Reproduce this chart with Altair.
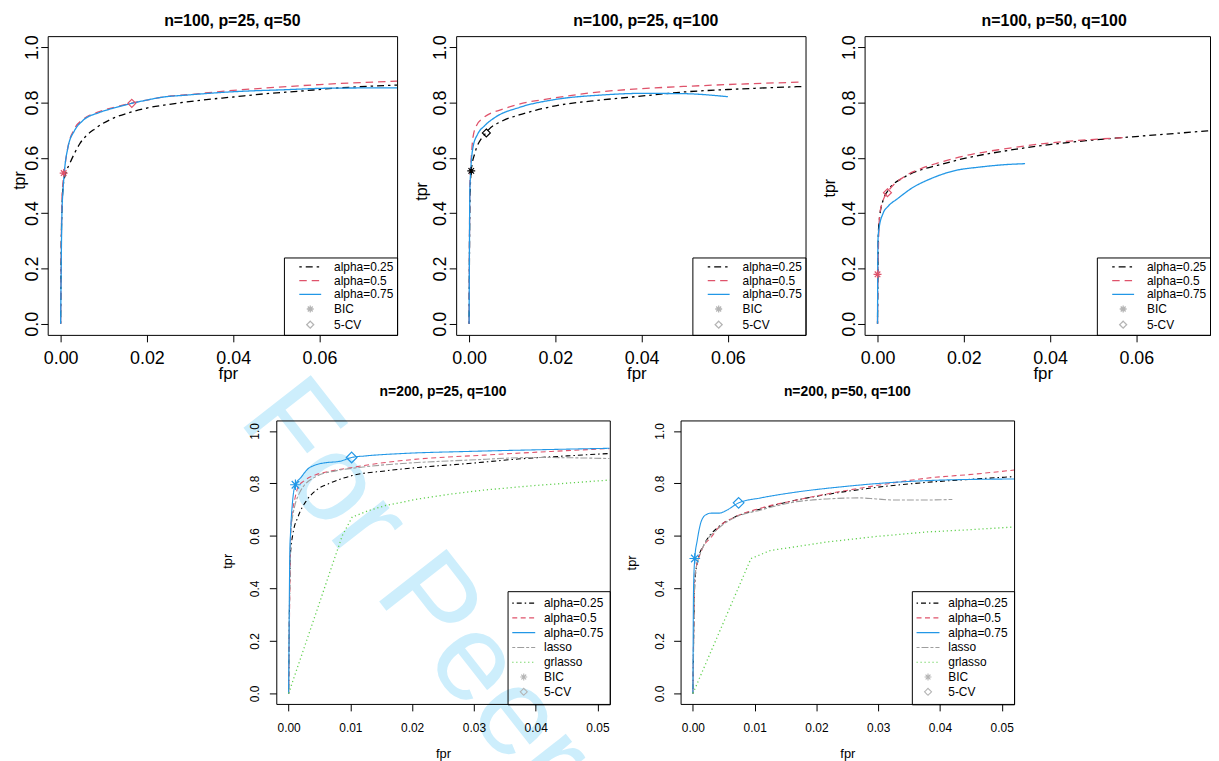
import altair as alt
import pandas as pd

FONT = "Liberation Sans"

# ---------------------------------------------------------------- data
TOP_KEYS = ["alpha=0.25", "alpha=0.5", "alpha=0.75", "BIC", "5-CV"]
BOT_KEYS = ["alpha=0.25", "alpha=0.5", "alpha=0.75", "lasso", "grlasso", "BIC", "5-CV"]
SERIES_KEYS = ["alpha=0.25", "alpha=0.5", "alpha=0.75"]

P1_TITLE = "n=100, p=25, q=50"
P1_A025_FPR = [0, 0.0002, 0.0006, 0.0012, 0.0021, 0.0044, 0.0082, 0.012, 0.0158, 0.02, 0.025, 0.0323, 0.04, 0.0477, 0.0553, 0.063, 0.078]
P1_A025_TPR = [0, 0.35, 0.50, 0.545, 0.579, 0.65, 0.708, 0.742, 0.763, 0.78, 0.793, 0.808, 0.82, 0.832, 0.841, 0.851, 0.863]
P1_A05_FPR = [0, 0.0003, 0.0006, 0.0009, 0.0017, 0.0032, 0.0051, 0.009, 0.0128, 0.0165, 0.0197, 0.0239, 0.03, 0.04, 0.05, 0.06, 0.078]
P1_A05_TPR = [0, 0.45, 0.52, 0.56, 0.64, 0.705, 0.738, 0.767, 0.784, 0.798, 0.808, 0.82, 0.829, 0.844, 0.855, 0.865, 0.877]
P1_A075_FPR = [0, 0.0003, 0.00055, 0.0009, 0.0017, 0.0032, 0.0051, 0.009, 0.0128, 0.0165, 0.0197, 0.0239, 0.0285, 0.04, 0.0515, 0.063, 0.078]
P1_A075_TPR = [0, 0.40, 0.483, 0.555, 0.638, 0.698, 0.734, 0.764, 0.782, 0.797, 0.808, 0.82, 0.826, 0.839, 0.846, 0.852, 0.853]
P1_MARK_KEY = ["BIC", "5-CV"]
P1_MARK_SERIES = ["alpha=0.5", "alpha=0.5"]
P1_MARK_FPR = [0.0007, 0.0165]
P1_MARK_TPR = [0.545, 0.797]

P2_TITLE = "n=100, p=25, q=100"
P2_A025_FPR = [0, 0.0002, 0.0005, 0.0013, 0.004, 0.0078, 0.0116, 0.0154, 0.02, 0.0306, 0.0398, 0.0497, 0.06, 0.0775]
P2_A025_TPR = [0, 0.45, 0.553, 0.615, 0.692, 0.734, 0.755, 0.772, 0.788, 0.809, 0.823, 0.838, 0.847, 0.858]
P2_A05_FPR = [0, 0.0002, 0.0005, 0.0009, 0.0017, 0.0032, 0.0078, 0.0116, 0.02, 0.0306, 0.0398, 0.0497, 0.06, 0.0775]
P2_A05_TPR = [0, 0.52, 0.60, 0.674, 0.716, 0.743, 0.776, 0.794, 0.817, 0.839, 0.85, 0.858, 0.865, 0.874]
P2_A075_FPR = [0, 0.0002, 0.0009, 0.002, 0.0036, 0.0062, 0.0116, 0.02, 0.0306, 0.0398, 0.0497, 0.06]
P2_A075_TPR = [0, 0.495, 0.638, 0.686, 0.716, 0.748, 0.782, 0.811, 0.827, 0.833, 0.832, 0.821]
P2_MARK_KEY = ["BIC", "5-CV"]
P2_MARK_SERIES = ["alpha=0.25", "alpha=0.25"]
P2_MARK_FPR = [0.0005, 0.004]
P2_MARK_TPR = [0.553, 0.69]

P3_TITLE = "n=100, p=50, q=100"
P3_A025_FPR = [0, 0.0002, 0.0005, 0.0013, 0.0024, 0.0063, 0.0101, 0.0139, 0.0216, 0.0292, 0.0399, 0.0483, 0.0598, 0.0771]
P3_A025_TPR = [0, 0.33, 0.388, 0.447, 0.481, 0.531, 0.557, 0.573, 0.603, 0.624, 0.648, 0.662, 0.677, 0.698]
P3_A05_FPR = [0, 0.0001, 0.0005, 0.0013, 0.0024, 0.0063, 0.0101, 0.0139, 0.0216, 0.0292, 0.0399, 0.0483, 0.0579]
P3_A05_TPR = [0, 0.18, 0.394, 0.447, 0.477, 0.533, 0.561, 0.581, 0.612, 0.632, 0.654, 0.665, 0.674]
P3_A075_FPR = [0, 0.0001, 0.0003, 0.0013, 0.0024, 0.0047, 0.0078, 0.0124, 0.0177, 0.0239, 0.0292, 0.0342]
P3_A075_TPR = [0, 0.30, 0.34, 0.40, 0.424, 0.453, 0.489, 0.525, 0.553, 0.567, 0.575, 0.579]
P3_MARK_KEY = ["BIC", "5-CV"]
P3_MARK_SERIES = ["alpha=0.5", "alpha=0.5"]
P3_MARK_FPR = [0.0, 0.0023]
P3_MARK_TPR = [0.179, 0.474]

P4_TITLE = "n=200, p=25, q=100"
P4_A025_FPR = [0, 0.0002, 0.0003, 0.0007, 0.0015, 0.0029, 0.0044, 0.0066, 0.0103, 0.0157, 0.021, 0.0291, 0.0371, 0.0451, 0.052]
P4_A025_TPR = [0, 0.45, 0.533, 0.609, 0.672, 0.735, 0.773, 0.8, 0.83, 0.848, 0.861, 0.876, 0.893, 0.905, 0.914]
P4_A05_FPR = [0, 0.0002, 0.0004, 0.001, 0.0015, 0.0025, 0.0044, 0.0066, 0.0103, 0.0157, 0.021, 0.0317, 0.0425, 0.052]
P4_A05_TPR = [0, 0.40, 0.646, 0.74, 0.785, 0.81, 0.833, 0.846, 0.861, 0.88, 0.893, 0.908, 0.922, 0.933]
P4_A075_FPR = [0, 0.0002, 0.0003, 0.0007, 0.0011, 0.002, 0.0031, 0.0044, 0.006, 0.0082, 0.0102, 0.0125, 0.0184, 0.0291, 0.0398, 0.052]
P4_A075_TPR = [0, 0.55, 0.609, 0.747, 0.795, 0.823, 0.855, 0.871, 0.879, 0.884, 0.899, 0.905, 0.914, 0.922, 0.928, 0.934]
P4_LASSO_FPR = [0, 0.0002, 0.0004, 0.0018, 0.0044, 0.0076, 0.0114, 0.0184, 0.0291, 0.0398, 0.052]
P4_LASSO_TPR = [0, 0.45, 0.634, 0.766, 0.826, 0.848, 0.861, 0.876, 0.889, 0.899, 0.895]
P4_GRL_FPR = [0, 0.0087, 0.0103, 0.013, 0.0157, 0.021, 0.0264, 0.0317, 0.0398, 0.052]
P4_GRL_TPR = [0, 0.602, 0.672, 0.697, 0.716, 0.741, 0.76, 0.775, 0.792, 0.813]
P4_MARK_KEY = ["BIC", "5-CV"]
P4_MARK_SERIES = ["alpha=0.75", "alpha=0.75"]
P4_MARK_FPR = [0.0011, 0.0102]
P4_MARK_TPR = [0.795, 0.899]

P5_TITLE = "n=200, p=50, q=100"
P5_A025_FPR = [0, 0.0002, 0.0003, 0.0008, 0.0019, 0.0041, 0.0068, 0.011, 0.0164, 0.0217, 0.0297, 0.0378, 0.0458, 0.052]
P5_A025_TPR = [0, 0.33, 0.419, 0.508, 0.571, 0.634, 0.672, 0.703, 0.735, 0.758, 0.785, 0.804, 0.817, 0.826]
P5_A05_FPR = [0, 0.0002, 0.0003, 0.0014, 0.003, 0.0041, 0.0068, 0.011, 0.0164, 0.0217, 0.0297, 0.0378, 0.0458, 0.052]
P5_A05_TPR = [0, 0.35, 0.444, 0.545, 0.596, 0.631, 0.672, 0.706, 0.735, 0.76, 0.792, 0.82, 0.836, 0.851]
P5_A075_FPR = [0, 0.0001, 0.0003, 0.0007, 0.0014, 0.0022, 0.003, 0.0043, 0.0054, 0.0074, 0.011, 0.0164, 0.0244, 0.0324, 0.0405, 0.052]
P5_A075_TPR = [0, 0.40, 0.514, 0.583, 0.659, 0.682, 0.687, 0.687, 0.697, 0.726, 0.745, 0.766, 0.788, 0.804, 0.813, 0.817]
P5_LASSO_FPR = [0, 0.0002, 0.0003, 0.0014, 0.0041, 0.0068, 0.011, 0.0164, 0.0217, 0.027, 0.0297, 0.0324, 0.0378, 0.042]
P5_LASSO_TPR = [0, 0.30, 0.444, 0.545, 0.628, 0.67, 0.699, 0.729, 0.741, 0.745, 0.741, 0.737, 0.737, 0.739]
P5_GRL_FPR = [0, 0.0094, 0.0126, 0.0164, 0.0217, 0.0297, 0.0378, 0.0458, 0.052]
P5_GRL_TPR = [0, 0.514, 0.545, 0.558, 0.577, 0.598, 0.615, 0.625, 0.634]
P5_MARK_KEY = ["BIC", "5-CV"]
P5_MARK_SERIES = ["alpha=0.75", "alpha=0.75"]
P5_MARK_FPR = [0.0003, 0.0074]
P5_MARK_TPR = [0.514, 0.726]

WATERMARK = "For Peer Review"

TOP_X_TICKS = [0, 0.02, 0.04, 0.06]
BOT_X_TICKS = [0, 0.01, 0.02, 0.03, 0.04, 0.05]
Y_TICKS = [0, 0.2, 0.4, 0.6, 0.8, 1.0]

# ---------------------------------------------------------------- styles
COLORS = {"alpha=0.25": "#000000", "alpha=0.5": "#DF536B", "alpha=0.75": "#2297E6",
          "lasso": "#9E9E9E", "grlasso": "#61D04F", "BIC": "#b4b4b4", "5-CV": "#b4b4b4"}
ASTERISK = "M-1,0L1,0M0,-1L0,1M-0.7,-0.7L0.7,0.7M-0.7,0.7L0.7,-0.7"
DIAMOND = "M0,-1L1,0L0,1L-1,0Z"

TOP = dict(
    height=301, lab=18, xpad=8, ypad=3.5, xt_fs=17, yt_fs=16, title_fs=16, title_off=-7.2,
    xtitle_y=39, sw=1.3, msize=64,
    dash={"alpha=0.25": [2.5, 4, 7, 4], "alpha=0.5": [7.5, 5], "alpha=0.75": [1, 0],
          "BIC": [1, 0], "5-CV": [1, 0]},
    shape={"alpha=0.25": "M-3.15,0L3.15,0", "alpha=0.5": "M-3.15,0L3.15,0", "alpha=0.75": "M-3.15,0L3.15,0",
           "BIC": ASTERISK, "5-CV": DIAMOND},
    legend=dict(title=" ", titleOrient="left", titleFontSize=1, titlePadding=10,
                padding=3.5, rowPadding=1.8, symbolOffset=7, labelOffset=18,
                symbolStrokeWidth=1.3),
    xticks=TOP_X_TICKS,
)
BOT = dict(
    height=285.6, lab=12, xpad=12, ypad=10.5, xt_fs=13, yt_fs=13, title_fs=14, title_off=11.1,
    xtitle_y=49.7, sw=1.1, msize=115,
    dash={"alpha=0.25": [1.5, 3, 5, 3], "alpha=0.5": [5, 3.5], "alpha=0.75": [1, 0],
          "lasso": [3, 2, 7, 2], "grlasso": [1.2, 2.8], "BIC": [1, 0], "5-CV": [1, 0]},
    shape={"alpha=0.25": "M-3.3,0L3.3,0", "alpha=0.5": "M-3.3,0L3.3,0", "alpha=0.75": "M-3.3,0L3.3,0",
           "lasso": "M-3.3,0L3.3,0", "grlasso": "M-3.3,0L3.3,0", "BIC": ASTERISK, "5-CV": DIAMOND},
    legend=dict(title=None, padding=6, rowPadding=2.9, symbolOffset=4.3, labelOffset=14.4,
                symbolStrokeWidth=1.1),
    xticks=BOT_X_TICKS,
)


def line_frame(series):
    rows = []
    for key, fprs, tprs in series:
        for i, (f, t) in enumerate(zip(fprs, tprs)):
            rows.append({"key": key, "fpr": f, "tpr": t, "idx": i})
    return pd.DataFrame(rows)


def panel(title, smooth, linear, marks, keys, cfg, width, xdom, dx, ytx, yty, xtx_shift):
    h = cfg["height"]
    xscale = alt.Scale(domain=xdom, nice=False, zero=False)
    yscale = alt.Scale(domain=[-0.04, 1.04], nice=False, zero=False)
    xaxis = alt.Axis(values=cfg["xticks"], format=".2f", labelFontSize=cfg["lab"], labelFont=FONT,
                     labelColor="black", tickSize=7, tickColor="black", tickWidth=1, domain=False,
                     grid=False, labelPadding=cfg["xpad"], labelFlush=False, labelOverlap=False,
                     title="fpr", titleFont=FONT, titleFontSize=cfg["xt_fs"], titleFontWeight="normal",
                     titleColor="black", titleX=width / 2 + xtx_shift, titleY=cfg["xtitle_y"],
                     titleBaseline="middle", titleAlign="center")
    yaxis = alt.Axis(values=Y_TICKS, format=".1f", labelFontSize=cfg["lab"], labelFont=FONT,
                     labelColor="black", tickSize=7, tickColor="black", tickWidth=1, domain=False,
                     grid=False, labelPadding=cfg["ypad"], labelFlush=False, labelOverlap=False,
                     labelAngle=270, labelAlign="center", labelBaseline="alphabetic",
                     title="tpr", titleFont=FONT, titleFontSize=cfg["yt_fs"], titleFontWeight="normal",
                     titleColor="black", titleAngle=270, titleX=ytx, titleY=yty,
                     titleBaseline="middle", titleAlign="center")
    leg = alt.Legend(orient="bottom-right", offset=0, strokeColor="black", fillColor="transparent",
                     labelFont=FONT, labelFontSize=12, labelColor="black", symbolSize=49,
                     symbolFillColor="transparent", cornerRadius=0, **cfg["legend"])
    cscale = alt.Scale(domain=keys, range=[COLORS[k] for k in keys])
    dscale = alt.Scale(domain=keys, range=[cfg["dash"][k] for k in keys])
    sscale = alt.Scale(domain=keys, range=[cfg["shape"][k] for k in keys])
    ex = alt.X("fpr:Q", scale=xscale, axis=xaxis)
    ey = alt.Y("tpr:Q", scale=yscale, axis=yaxis)

    layers = [
        alt.Chart(line_frame(smooth)).mark_line(clip=True, strokeWidth=cfg["sw"], interpolate="monotone",
                                                strokeCap="butt").encode(
            x=ex, y=ey,
            color=alt.Color("key:N", scale=cscale, legend=leg),
            strokeDash=alt.StrokeDash("key:N", scale=dscale, legend=leg),
            order=alt.Order("idx:Q"),
        )
    ]
    if linear:
        layers.append(
            alt.Chart(line_frame(linear)).mark_line(clip=True, strokeWidth=cfg["sw"] + 0.2,
                                                    strokeCap="butt").encode(
                x=ex, y=ey,
                color=alt.Color("key:N", scale=cscale, legend=leg),
                strokeDash=alt.StrokeDash("key:N", scale=dscale, legend=leg),
                order=alt.Order("idx:Q"),
            )
        )
    mk_key, mk_series, mk_fpr, mk_tpr = marks
    mdf = pd.DataFrame({"key": mk_key, "series": mk_series, "fpr": mk_fpr, "tpr": mk_tpr})
    layers.append(
        alt.Chart(mdf).mark_point(clip=True, filled=False, size=cfg["msize"], strokeWidth=1.2,
                                  opacity=1).encode(
            x=ex, y=ey,
            shape=alt.Shape("key:N", scale=sscale, legend=leg),
            stroke=alt.Stroke("series:N", scale=alt.Scale(domain=SERIES_KEYS,
                                                          range=[COLORS[k] for k in SERIES_KEYS]),
                              legend=None),
        )
    )
    return alt.layer(*layers).properties(
        width=width, height=h,
        title=alt.TitleParams(title, fontSize=cfg["title_fs"], fontWeight="bold", font=FONT,
                              color="black", offset=cfg["title_off"], dx=dx, baseline="alphabetic",
                              anchor="middle"),
    )


def resolved(ch):
    return ch.resolve_scale(color="independent", strokeDash="independent", shape="independent",
                            stroke="independent").resolve_legend(
        color="independent", strokeDash="independent", shape="independent")


p1 = panel(P1_TITLE,
           [("alpha=0.25", P1_A025_FPR, P1_A025_TPR), ("alpha=0.5", P1_A05_FPR, P1_A05_TPR),
            ("alpha=0.75", P1_A075_FPR, P1_A075_TPR)], [],
           (P1_MARK_KEY, P1_MARK_SERIES, P1_MARK_FPR, P1_MARK_TPR), TOP_KEYS, TOP,
           352, [-0.003, 0.078], 10, -28, 145, 5.5)
p2 = panel(P2_TITLE,
           [("alpha=0.25", P2_A025_FPR, P2_A025_TPR), ("alpha=0.5", P2_A05_FPR, P2_A05_TPR),
            ("alpha=0.75", P2_A075_FPR, P2_A075_TPR)], [],
           (P2_MARK_KEY, P2_MARK_SERIES, P2_MARK_FPR, P2_MARK_TPR), TOP_KEYS, TOP,
           352, [-0.003, 0.078], 15, -35, 156, 5.5)
p3 = panel(P3_TITLE,
           [("alpha=0.25", P3_A025_FPR, P3_A025_TPR), ("alpha=0.5", P3_A05_FPR, P3_A05_TPR),
            ("alpha=0.75", P3_A075_FPR, P3_A075_TPR)], [],
           (P3_MARK_KEY, P3_MARK_SERIES, P3_MARK_FPR, P3_MARK_TPR), TOP_KEYS, TOP,
           348, [-0.003, 0.07708], 17, -35, 152.7, 5.5)

p4 = panel(P4_TITLE,
           [("alpha=0.25", P4_A025_FPR, P4_A025_TPR), ("alpha=0.5", P4_A05_FPR, P4_A05_TPR),
            ("lasso", P4_LASSO_FPR, P4_LASSO_TPR), ("alpha=0.75", P4_A075_FPR, P4_A075_TPR)],
           [("grlasso", P4_GRL_FPR, P4_GRL_TPR)],
           (P4_MARK_KEY, P4_MARK_SERIES, P4_MARK_FPR, P4_MARK_TPR), BOT_KEYS, BOT,
           336, [-0.002, 0.052], 0, -48.7, 141.3, 0)
p5 = panel(P5_TITLE,
           [("alpha=0.25", P5_A025_FPR, P5_A025_TPR), ("alpha=0.5", P5_A05_FPR, P5_A05_TPR),
            ("lasso", P5_LASSO_FPR, P5_LASSO_TPR), ("alpha=0.75", P5_A075_FPR, P5_A075_TPR)],
           [("grlasso", P5_GRL_FPR, P5_GRL_TPR)],
           (P5_MARK_KEY, P5_MARK_SERIES, P5_MARK_FPR, P5_MARK_TPR), BOT_KEYS, BOT,
           336, [-0.002, 0.052], 0, -49, 143, 0)

# left spacer of the bottom row, carrying the "For Peer Review" watermark
spacer = alt.Chart(pd.DataFrame({"t": [WATERMARK]})).mark_text(
    angle=52, fontSize=125, font=FONT, color="#cdeefc", align="left", baseline="alphabetic"
).encode(text="t:N", x=alt.value(191), y=alt.value(-0.7)).properties(
    width=158.4, height=285.6, view=alt.ViewBackground(stroke="transparent"))

top = resolved(alt.hconcat(p1, p2, p3, spacing=59.5, bounds="flush"))
bottom = resolved(alt.hconcat(spacer, p4, p5, spacing=71.3, bounds="flush"))

chart = resolved(alt.vconcat(top, bottom, spacing=-24.8)).properties(
    padding={"left": 3, "top": 0, "right": 0, "bottom": 0}
).configure_view(stroke="black", strokeWidth=1)

chart.save("out.html", embed_options={"renderer": "svg", "actions": False})
